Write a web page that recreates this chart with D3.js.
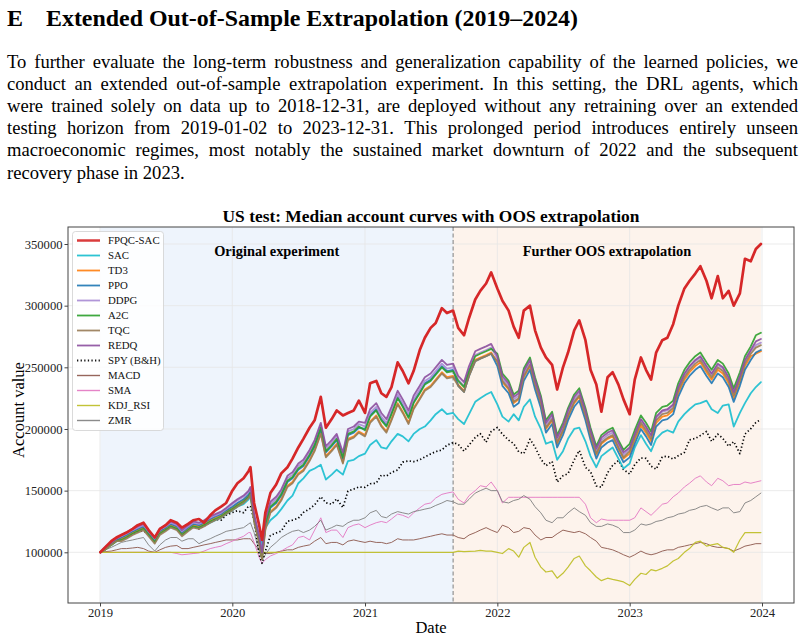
<!DOCTYPE html>
<html><head><meta charset="utf-8">
<script src="https://cdn.jsdelivr.net/npm/d3@7"></script>
<style>
body{margin:0;background:#fff;}
svg{display:block;font-family:"Liberation Serif","Times New Roman",Times,serif;}
</style></head><body>
<svg id="c" width="805" height="639"></svg>
<script>
// ---------------- text ----------------
const headingLetter = "E";
const headingTitle = "Extended Out-of-Sample Extrapolation (2019–2024)";
const paragraphLines = [
  "To further evaluate the long-term robustness and generalization capability of the learned policies, we",
  "conduct an extended out-of-sample extrapolation experiment. In this setting, the DRL agents, which",
  "were trained solely on data up to 2018-12-31, are deployed without any retraining over an extended",
  "testing horizon from 2019-01-02 to 2023-12-31. This prolonged period introduces entirely unseen",
  "macroeconomic regimes, most notably the sustained market downturn of 2022 and the subsequent",
  "recovery phase in 2023."
];
const chartTitle = "US test: Median account curves with OOS extrapolation";
const xLabel = "Date";
const yLabel = "Account value";
const regionLabels = ["Original experiment", "Further OOS extrapolation"];
const splitDate = "2021-09-01";
const yTicks = [100000, 150000, 200000, 250000, 300000, 350000];
const xTicks = ["2019-01-01","2020-01-01","2021-01-01","2022-01-01","2023-01-01","2024-01-01"];

// ---------------- data (account value, thousands) ----------------
const dates = [
 "2019-01-02","2019-01-15","2019-02-01","2019-02-15","2019-03-01","2019-03-15","2019-04-01","2019-04-15","2019-05-01","2019-05-15","2019-06-01","2019-06-15","2019-07-01","2019-07-15","2019-08-01","2019-08-15","2019-09-01","2019-09-15","2019-10-01","2019-10-15","2019-11-01","2019-11-15","2019-12-01","2019-12-15",
 "2020-01-01","2020-01-15","2020-02-01","2020-02-15","2020-02-20","2020-03-01","2020-03-15","2020-03-23","2020-04-01","2020-04-15","2020-05-01","2020-05-15","2020-06-01","2020-06-15","2020-07-01","2020-07-15","2020-08-01","2020-08-15","2020-09-01","2020-09-15","2020-10-01","2020-10-15","2020-11-01","2020-11-15","2020-12-01","2020-12-15",
 "2021-01-01","2021-01-15","2021-02-01","2021-02-15","2021-03-01","2021-03-15","2021-04-01","2021-04-15","2021-05-01","2021-05-15","2021-06-01","2021-06-15","2021-07-01","2021-07-15","2021-08-01","2021-08-15","2021-09-01","2021-09-15","2021-10-01","2021-10-15","2021-11-01","2021-11-15","2021-12-01","2021-12-15",
 "2022-01-01","2022-01-15","2022-02-01","2022-02-15","2022-03-01","2022-03-15","2022-04-01","2022-04-15","2022-05-01","2022-05-15","2022-06-01","2022-06-15","2022-07-01","2022-07-15","2022-08-01","2022-08-15","2022-09-01","2022-09-15","2022-10-01","2022-10-15","2022-11-01","2022-11-15","2022-12-01","2022-12-15",
 "2023-01-01","2023-01-15","2023-02-01","2023-02-15","2023-03-01","2023-03-15","2023-04-01","2023-04-15","2023-05-01","2023-05-15","2023-06-01","2023-06-15","2023-07-01","2023-07-15","2023-08-01","2023-08-15","2023-09-01","2023-09-15","2023-10-01","2023-10-15","2023-11-01","2023-11-15","2023-12-01","2023-12-15","2023-12-29"
];

const fpqcSac = [
 100,104,109,112,114,116,119,122,124,118,112,119,122,126,124,120,123,126,127,124,130,134,137,140,
 150,156,160,166,169,140,122,110,132,148,155,164,169,176,185,192,201,207,226,201,208,215,211,213,215,223,
 213,237,239,229,226,234,254,247,237,247,264,274,282,286,298,294,296,282,276,290,305,312,318,327,
 314,304,296,283,274,296,300,280,266,258,252,232,250,262,280,288,272,248,236,214,242,246,236,224,
 212,240,258,248,240,262,272,274,285,300,314,320,326,332,320,306,324,306,312,300,310,338,336,346,350
];
const sac = [
 100,103,106,109,111,113,116,118,120,115,110,116,118,121,119,115,118,121,120,122,124,126,128,131,
 134,137,139,143,145,128,114,106,120,126,130,135,142,146,156,160,166,168,171,159,163,167,163,174,175,178,
 180,187,191,185,184,190,196,194,190,196,200,202,207,212,216,212,213,208,204,212,222,225,228,230,
 220,210,206,212,207,218,224,210,200,188,190,175,182,192,200,201,190,178,169,178,182,185,176,168,
 172,185,195,188,182,192,197,199,197,206,212,216,220,221,223,216,213,219,220,202,213,221,229,234,238
];
const td3 = [
 100,103,107,110,111,113,116,118,120,115,109,116,119,122,120,115,119,122,121,123,126,128,130,133,
 136,139,142,146,149,127,109,96,119,133,137,143,154,157,164,167,175,183,197,178,183,188,173,192,194,198,
 195,206,211,203,198,208,221,214,205,217,225,232,235,240,246,242,243,236,231,244,256,258,260,262,
 254,238,232,221,224,242,251,235,220,200,207,188,198,210,221,226,210,194,179,188,192,194,184,176,
 180,191,203,197,190,205,210,211,215,229,240,246,251,254,246,240,248,245,237,225,238,251,259,261,263
];
const ppo = [
 100,103,107,110,112,114,117,119,121,116,110,117,120,123,121,116,120,123,122,124,127,129,131,134,
 137,140,143,147,150,128,110,97,122,136,140,146,157,160,167,170,178,186,200,181,186,191,176,195,197,201,
 200,211,216,208,203,213,226,219,210,222,230,237,240,245,251,247,248,235,230,243,255,257,259,261,
 251,235,229,218,221,239,248,232,217,197,204,185,195,207,218,223,207,191,176,185,189,191,181,173,
 177,188,200,194,187,202,207,208,212,226,237,243,248,251,243,237,245,242,234,222,235,248,256,262,264
];
const ddpg = [
 100,104,108,111,113,115,118,120,122,117,111,118,121,124,122,117,121,124,123,125,128,130,132,135,
 139,142,145,149,152,130,112,99,125,139,143,149,160,163,170,173,181,189,203,184,189,194,179,198,200,204,
 202,213,218,210,205,215,228,221,212,224,232,239,242,247,253,249,250,240,235,248,260,262,264,266,
 257,241,235,224,227,245,254,238,223,203,210,191,201,213,224,229,213,197,182,191,195,197,187,179,
 184,195,207,201,194,209,214,215,219,233,244,250,255,258,250,244,252,249,241,229,242,255,263,268,270
];
const a2c = [
 100,102,106,109,110,112,115,117,119,114,108,115,118,121,119,114,118,121,120,122,125,127,129,132,
 135,138,141,145,148,126,108,95,123,137,141,147,158,161,168,171,179,187,201,182,187,192,177,196,198,202,
 199,210,215,207,202,212,225,218,209,221,229,236,239,244,250,246,247,239,234,247,259,261,263,265,
 261,245,239,228,231,249,258,242,227,207,214,195,205,217,228,233,217,201,186,195,199,201,191,183,
 188,199,211,205,198,213,218,219,223,237,248,254,259,262,254,248,256,253,245,233,246,259,267,276,278
];
const tqc = [
 100,102,106,109,109,111,114,116,118,113,107,114,117,120,118,113,117,120,119,121,124,126,128,131,
 134,137,140,144,147,125,107,94,118,132,136,142,153,156,163,166,174,182,196,177,182,187,172,191,193,197,
 194,205,210,202,197,207,220,213,204,216,224,231,234,239,245,241,242,235,230,243,255,257,259,261,
 255,239,233,222,225,243,252,236,221,201,208,189,199,211,222,227,211,195,180,189,193,195,185,177,
 182,193,205,199,192,207,212,213,217,231,242,248,253,256,248,242,250,247,239,227,240,253,261,266,268
];
const redq = [
 100,104,108,111,114,116,119,121,123,118,112,119,122,125,123,118,122,125,124,126,129,131,133,136,
 140,143,146,150,153,131,113,100,127,141,145,151,162,165,172,175,183,191,205,186,191,196,181,200,202,206,
 205,216,221,213,208,218,231,224,215,227,235,242,245,250,256,252,253,243,238,251,263,265,267,269,
 259,243,237,226,229,247,256,240,225,205,212,193,203,215,226,231,215,199,184,193,197,199,189,181,
 185,196,208,202,195,210,215,216,220,234,245,251,256,259,251,245,253,250,242,230,243,256,264,271,273
];
const spy = [
 100,103.9,108.1,111.1,112.6,112.9,114.9,116.7,117.4,114.8,110.6,117.0,119.6,121.4,119.1,115.1,117.7,121.6,119.0,121.4,124.4,126.8,126.0,130.1,
 132.2,133.7,132.1,137.6,137.0,126.1,98.1,91.1,100.7,113.6,115.7,117.2,125.2,126.1,127.6,132.3,135.2,138.5,145.1,140.2,139.0,143.3,136.3,149.7,151.3,153.0,
 152.7,155.6,156.0,162.6,161.8,164.8,166.7,173.1,174.2,173.5,175.0,177.3,179.8,181.6,183.0,186.8,189.0,187.6,182.0,187.0,193.1,196.2,189.3,198.0,
 201.2,195.8,191.0,188.1,181.5,180.0,191.7,185.3,175.6,170.2,173.7,157.0,162.1,163.8,174.9,182.6,168.9,165.4,153.8,152.8,164.4,170.5,174.4,167.1,
 163.5,171.1,176.5,176.2,169.8,167.4,177.3,177.9,175.6,178.3,181.0,191.2,192.3,194.7,198.0,189.9,195.8,192.4,186.0,189.8,180.0,195.9,200.2,205.2,207.8
];
const macd = [
 100,100.5,101,102,103,103,103.5,104,103,101,100,102,104,105,105.5,103,103,104,105,106,107,108,109,110,
 110,110,111,111,111,107,102,100,99,99,100,101,102,102,104,105,106,109,112,107,108,108,106,109,110,109,
 108,109,108,108,107,108,111,110,110,110,111,112,113,114,115,114,114,112,111,114,116,118,120,118,
 116,122,120,116,117,120,119,114,110,112,112,115,118,117,116,117,115,112,109,104,103,102,100,98,
 96,98,101,99,98,99,101,102,102,104,105,106,107,108,107,105,104,104,103,101,103,105,106,107,107
];
const sma = [
 100,100,100,100,100,100,100,100,100,100,100,100,100,100,99,98,98.5,99,99.5,101,103,104,105,107,
 109,111,113,116,116,108,96,91,94,97,99,101,104,106,112,113,110,118,128,116,118,118,112,120,122,123,
 120,122,124,125,124,127,131,130,128,132,136,139,140,144,147,148,149,143,140,146,150,154,153,157,
 150,140,144.6,144.6,144.6,144.6,144.6,144.6,144.6,144.6,144.6,144.6,144.6,144.6,144.6,144.6,139,128,124,127,126,126,126,126,
 126,128,136,133,130,134,139,140,145,148,153,156,160,162,157,154,160,158,154,155,155,157,156,157,158
];
const kdjRsi = [
 100,100,100,100,100,100,100,100,100,100,100,100,100,100,100,100,100,100,100,100,100,100,100,100,
 100,100,100,100,100,100,100,100,100,100,100,100,100,100,100,100,100,100,100,100,100,100,100,100,100,100,
 100,100,100,100,100,100,100,100,100,100,100,100,100,100,100,100,100,101,100.5,100.8,101,101.5,101,101,
 100,99,103,101,96,104,108,96,88,84,85,79,83,88,95,97,89,85,80,77,79,78,77,76,
 73,78,83,82,86,85,87,89,93,95,100,103,108,109,105,106,107,104,103,100,110,116,116,116,116
];
const zmr = [
 100,102,104,106,108,109,110,111,112,106,101,106,110,112,112,109,111,111,107,109,111,113,115,117,
 118,119,120,123,124,116,101,94,98,104,108,112,115,117,118,116,118,121,126,118,120,122,121,124,126,126,
 128,132,134,129,128,131,133,132,131,133,134,135,136,138,140,142,141,139,139,143,148,150,152,150,
 150,141,140,142,143,146,143,137,132,126,124,128,128,132,136,133,130,124,121,121,123,122,120,116,
 116,118,123,122,123,125,126,128,129,131,132,134,135,137,138,136,134,136,136,132,133,140,142,145,148
];

// legend order
const series = [
  {name:"FPQC-SAC", values:fpqcSac, color:"#d62728", width:2.7, z:99},
  {name:"SAC",      values:sac,     color:"#17becf", width:1.8, z:6},
  {name:"TD3",      values:td3,     color:"#ff7f0e", width:1.8, z:7},
  {name:"PPO",      values:ppo,     color:"#1f77b4", width:1.8, z:8},
  {name:"DDPG",     values:ddpg,    color:"#a98bd4", width:1.8, z:9},
  {name:"A2C",      values:a2c,     color:"#2ca02c", width:1.8, z:10},
  {name:"TQC",      values:tqc,     color:"#987c57", width:1.8, z:11},
  {name:"REDQ",     values:redq,    color:"#8c4f9f", width:1.8, z:12},
  {name:"SPY (B&H)",values:spy,     color:"#000000", width:1.7, z:5, dash:"1.3,2.3"},
  {name:"MACD",     values:macd,    color:"#8c564b", width:1.0, z:1},
  {name:"SMA",      values:sma,     color:"#e377c2", width:1.0, z:2},
  {name:"KDJ_RSI",  values:kdjRsi,  color:"#bcbd22", width:1.2, z:3},
  {name:"ZMR",      values:zmr,     color:"#7f7f7f", width:1.0, z:4}
];

// ---------------- drawing ----------------
const W = 805, H = 639;
const plot = {l:68, r:794, t:227, b:603};
const parse = d3.utcParse("%Y-%m-%d");
const dateObjs = dates.map(parse);

const x = d3.scaleUtc().domain([parse("2019-01-01"), parse("2024-01-01")]).range([100, 762]);
const y = d3.scaleLinear().domain([100000, 350000]).range([552.3, 244]);

const svg = d3.select("#c");
svg.append("rect").attr("width", W).attr("height", H).attr("fill", "#fff");

// heading
svg.append("text").attr("x", 7).attr("y", 26).attr("font-size", 24).attr("font-weight", "bold")
  .attr("fill", "#000").text(headingLetter);
svg.append("text").attr("x", 46).attr("y", 26).attr("font-size", 24).attr("font-weight", "bold")
  .attr("fill", "#000").attr("textLength", 532).attr("lengthAdjust", "spacingAndGlyphs").text(headingTitle);

// paragraph, justified
paragraphLines.forEach((line, k) => {
  const yb = 68 + k * 22.1;
  const words = line.split(" ");
  const g = svg.append("g");
  const nodes = words.map(w => g.append("text").attr("y", yb).attr("font-size", 18.6).attr("fill", "#000").text(w));
  const widths = nodes.map(n => n.node().getComputedTextLength());
  const last = k === paragraphLines.length - 1;
  const gap = last ? 18.6 * 0.25 : (791 - d3.sum(widths)) / (words.length - 1);
  let xx = 7;
  nodes.forEach((n, j) => { n.attr("x", xx); xx += widths[j] + gap; });
});

// chart title
svg.append("text").attr("x", (plot.l + plot.r) / 2).attr("y", 222).attr("text-anchor", "middle")
  .attr("font-size", 17.4).attr("font-weight", "bold").text(chartTitle);

// clip
svg.append("clipPath").attr("id", "clip").append("rect")
  .attr("x", plot.l).attr("y", plot.t).attr("width", plot.r - plot.l).attr("height", plot.b - plot.t);

const startD = dateObjs[0], endD = dateObjs[dateObjs.length - 1], splitD = parse(splitDate);
// shaded regions
svg.append("rect").attr("x", x(startD)).attr("y", plot.t).attr("width", x(splitD) - x(startD))
  .attr("height", plot.b - plot.t).attr("fill", "#eef4fc");
svg.append("rect").attr("x", x(splitD)).attr("y", plot.t).attr("width", x(endD) - x(splitD))
  .attr("height", plot.b - plot.t).attr("fill", "#fdf3ec");

// grid
const grid = svg.append("g").attr("stroke", "#e6e6e6").attr("stroke-width", 0.8);
yTicks.forEach(v => grid.append("line").attr("x1", plot.l).attr("x2", plot.r).attr("y1", y(v)).attr("y2", y(v)));
xTicks.forEach(t => grid.append("line").attr("y1", plot.t).attr("y2", plot.b).attr("x1", x(parse(t))).attr("x2", x(parse(t))));

// split line
svg.append("line").attr("x1", x(splitD)).attr("x2", x(splitD)).attr("y1", plot.t).attr("y2", plot.b)
  .attr("stroke", "#8a8a8a").attr("stroke-width", 1.1).attr("stroke-dasharray", "4,2.5");

// region labels
svg.append("text").attr("x", (x(startD) + x(splitD)) / 2).attr("y", 256).attr("text-anchor", "middle")
  .attr("font-size", 14.4).attr("font-weight", "bold").text(regionLabels[0]);
svg.append("text").attr("x", (x(splitD) + x(endD)) / 2).attr("y", 256).attr("text-anchor", "middle")
  .attr("font-size", 14.4).attr("font-weight", "bold").text(regionLabels[1]);

// lines
const line = d3.line().x((d, i) => x(dateObjs[i])).y(d => y(d * 1000));
const lines = svg.append("g").attr("clip-path", "url(#clip)");
series.slice().sort((a, b) => a.z - b.z).forEach(s => {
  lines.append("path").datum(s.values).attr("d", line).attr("fill", "none")
    .attr("stroke", s.color).attr("stroke-width", s.width)
    .attr("stroke-linejoin", "round").attr("stroke-linecap", s.dash ? "butt" : "round")
    .attr("stroke-dasharray", s.dash || null)
    .attr("opacity", s.name === "FPQC-SAC" || s.name === "SPY (B&H)" ? 1 : 0.9);
});

// axes
const yAxis = svg.append("g").attr("transform", `translate(${plot.l},0)`)
  .call(d3.axisLeft(y).tickValues(yTicks).tickFormat(d3.format("d")).tickSize(3.5).tickPadding(2));
const xAxis = svg.append("g").attr("transform", `translate(0,${plot.b})`)
  .call(d3.axisBottom(x).tickValues(xTicks.map(parse)).tickFormat(d3.utcFormat("%Y")).tickSize(3.5).tickPadding(1.5));
[yAxis, xAxis].forEach(a => {
  a.select(".domain").remove();
  a.selectAll("text").attr("font-size", 12.6).attr("font-family", "Liberation Serif, Times New Roman, serif").attr("fill", "#222");
  a.selectAll("line").attr("stroke", "#444");
});

// frame
svg.append("rect").attr("x", plot.l).attr("y", plot.t).attr("width", plot.r - plot.l).attr("height", plot.b - plot.t)
  .attr("fill", "none").attr("stroke", "#444").attr("stroke-width", 1);

// axis labels
svg.append("text").attr("x", (plot.l + plot.r) / 2).attr("y", 633).attr("text-anchor", "middle")
  .attr("font-size", 16.5).text(xLabel);
svg.append("text").attr("transform", `translate(24,410) rotate(-90)`)
  .attr("text-anchor", "middle").attr("font-size", 16.5).text(yLabel);

// legend
const lg = svg.append("g");
lg.append("rect").attr("x", 72.5).attr("y", 231.5).attr("width", 91).attr("height", 199).attr("rx", 3)
  .attr("fill", "#fff").attr("fill-opacity", 0.85).attr("stroke", "#d0d0d0").attr("stroke-width", 0.8);
series.forEach((s, i) => {
  const yy = 240.5 + i * 15;
  lg.append("line").attr("x1", 77).attr("x2", 100).attr("y1", yy).attr("y2", yy)
    .attr("stroke", s.color).attr("stroke-width", s.name === "FPQC-SAC" ? 2.5 : (s.width > 1.2 ? 1.8 : 1.4))
    .attr("stroke-dasharray", s.dash || null).attr("opacity", 0.9);
  lg.append("text").attr("x", 108).attr("y", yy).attr("dy", "0.35em").attr("font-size", 10.8)
    .attr("fill", "#111").text(s.name);
});
</script>
</body></html>
